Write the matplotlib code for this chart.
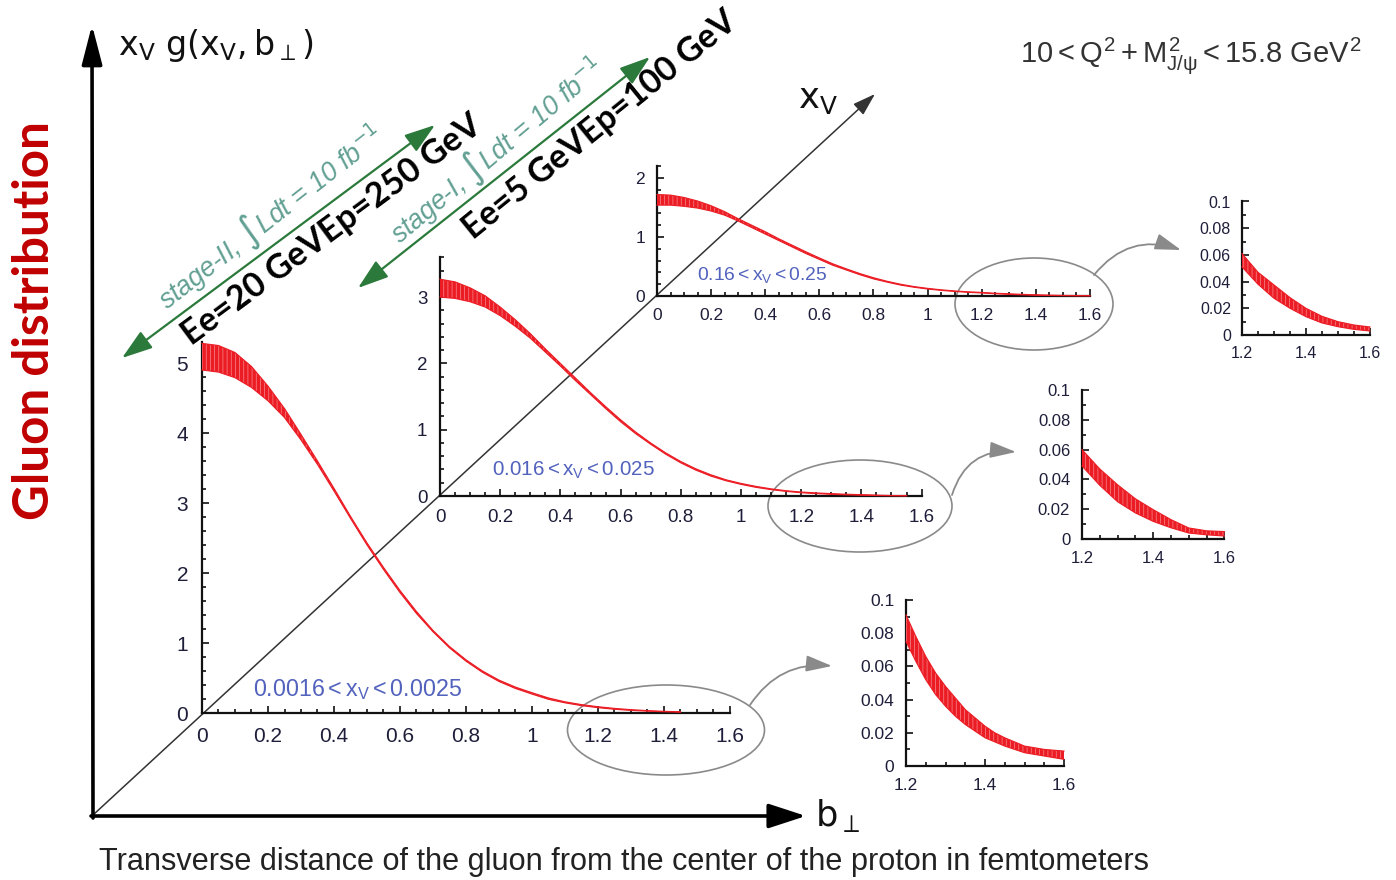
import matplotlib
matplotlib.use("Agg")
import matplotlib.pyplot as plt
from matplotlib.patches import Ellipse
from matplotlib.ticker import FixedLocator, FixedFormatter, MultipleLocator

# ---------------- data ----------------
# main panels: b_perp grid and lower/upper edge of the x_V g(x_V, b) band
P1_B = [0.00, 0.05, 0.10, 0.15, 0.20, 0.25, 0.30, 0.35, 0.40, 0.45, 0.50, 0.55, 0.60, 0.65, 0.70,
        0.75, 0.80, 0.85, 0.90, 0.95, 1.00, 1.05, 1.10, 1.15, 1.20, 1.25, 1.30, 1.35, 1.40, 1.45]
P1_LO = [4.90, 4.87, 4.79, 4.65, 4.46, 4.22, 3.90, 3.55, 3.17, 2.78, 2.40, 2.05, 1.72, 1.42, 1.16,
         0.93, 0.74, 0.58, 0.45, 0.35, 0.27, 0.195, 0.145, 0.105, 0.076, 0.053, 0.037, 0.026, 0.018, 0.012]
P1_HI = [5.28, 5.25, 5.15, 4.95, 4.67, 4.35, 3.98, 3.60, 3.21, 2.81, 2.43, 2.08, 1.75, 1.45, 1.18,
         0.95, 0.76, 0.60, 0.47, 0.37, 0.29, 0.215, 0.160, 0.120, 0.090, 0.066, 0.048, 0.034, 0.024, 0.017]

P2_B = [0.00, 0.05, 0.10, 0.15, 0.20, 0.25, 0.30, 0.35, 0.40, 0.45, 0.50, 0.55, 0.60, 0.65, 0.70, 0.75,
        0.80, 0.85, 0.90, 0.95, 1.00, 1.05, 1.10, 1.15, 1.20, 1.25, 1.30, 1.35, 1.40, 1.45, 1.50, 1.55]
P2_LO = [3.00, 2.98, 2.93, 2.85, 2.72, 2.56, 2.38, 2.17, 1.96, 1.74, 1.53, 1.32, 1.12, 0.94, 0.78, 0.63,
         0.50, 0.39, 0.30, 0.23, 0.175, 0.130, 0.096, 0.069, 0.049, 0.036, 0.025, 0.0175, 0.012, 0.0075, 0.0045, 0.003]
P2_HI = [3.27, 3.23, 3.14, 3.02, 2.85, 2.66, 2.45, 2.22, 2.00, 1.78, 1.56, 1.35, 1.15, 0.965, 0.80, 0.65,
         0.52, 0.41, 0.32, 0.245, 0.190, 0.145, 0.108, 0.080, 0.060, 0.047, 0.036, 0.027, 0.020, 0.013, 0.0074, 0.0055]

P3_B = [0.00, 0.05, 0.10, 0.15, 0.20, 0.25, 0.30, 0.35, 0.40, 0.45, 0.50, 0.55, 0.60, 0.65, 0.70, 0.75, 0.80,
        0.85, 0.90, 0.95, 1.00, 1.05, 1.10, 1.15, 1.20, 1.25, 1.30, 1.35, 1.40, 1.45, 1.50, 1.55, 1.60]
P3_LO = [1.54, 1.54, 1.52, 1.49, 1.44, 1.37, 1.27, 1.16, 1.05, 0.94, 0.83, 0.72, 0.62, 0.52, 0.44, 0.36, 0.29,
         0.235, 0.185, 0.148, 0.118, 0.095, 0.077, 0.062, 0.051, 0.038, 0.0275, 0.020, 0.0137, 0.009, 0.0062, 0.0042, 0.003]
P3_HI = [1.72, 1.71, 1.67, 1.61, 1.53, 1.43, 1.31, 1.20, 1.09, 0.97, 0.86, 0.75, 0.645, 0.545, 0.46, 0.38, 0.31,
         0.25, 0.20, 0.16, 0.13, 0.105, 0.086, 0.071, 0.061, 0.047, 0.0375, 0.028, 0.020, 0.014, 0.010, 0.0075, 0.006]

# zoomed tails, 1.2 < b < 1.6
I1_B = [1.200, 1.225, 1.250, 1.275, 1.300, 1.325, 1.350, 1.375, 1.400, 1.425, 1.450, 1.475, 1.500,
        1.525, 1.550, 1.575, 1.600]
I1_LO = [0.075, 0.063, 0.052, 0.043, 0.036, 0.030, 0.025, 0.021, 0.017, 0.0145, 0.012, 0.010, 0.008,
         0.007, 0.006, 0.005, 0.004]
I1_HI = [0.091, 0.078, 0.066, 0.056, 0.048, 0.041, 0.034, 0.029, 0.024, 0.020, 0.017, 0.0145, 0.012,
         0.011, 0.010, 0.0095, 0.009]
I_B = [1.20, 1.25, 1.30, 1.35, 1.40, 1.45, 1.50, 1.55, 1.60]
I2_LO = [0.049, 0.036, 0.025, 0.0175, 0.0118, 0.0075, 0.0040, 0.0028, 0.0020]
I2_HI = [0.060, 0.047, 0.0364, 0.027, 0.0197, 0.013, 0.0074, 0.0055, 0.0050]
I3_LO = [0.051, 0.038, 0.0275, 0.020, 0.0137, 0.009, 0.0062, 0.0042, 0.0030]
I3_HI = [0.061, 0.047, 0.0375, 0.028, 0.020, 0.014, 0.010, 0.0075, 0.0060]

# tick positions and labels
MAIN_XTICKS = [0, 0.2, 0.4, 0.6, 0.8, 1.0, 1.2, 1.4, 1.6]
MAIN_XLABELS = ["0", "0.2", "0.4", "0.6", "0.8", "1", "1.2", "1.4", "1.6"]
P1_YTICKS = [0, 1, 2, 3, 4, 5]
P2_YTICKS = [0, 1, 2, 3]
P3_YTICKS = [0, 1, 2]
ZOOM_XTICKS = [1.2, 1.4, 1.6]
ZOOM_XLABELS = ["1.2", "1.4", "1.6"]
ZOOM_YTICKS = [0, 0.02, 0.04, 0.06, 0.08, 0.1]
ZOOM_YLABELS = ["0", "0.02", "0.04", "0.06", "0.08", "0.1"]

# text
BIN_LABELS = [r"$0.0016 < x_V < 0.0025$", r"$0.016 < x_V < 0.025$", r"$0.16 < x_V < 0.25$"]
Q2_LABEL = r"$10 < Q^2 + M^2_{J/\psi} < 15.8\ GeV^2$"
STAGE2 = r"stage-II, $\int$Ldt = 10 fb$^{-1}$"
STAGE1 = r"stage-I, $\int$Ldt = 10 fb$^{-1}$"
BEAM2 = "Ee=20 GeVEp=250 GeV"
BEAM1 = "Ee=5 GeVEp=100 GeV"
YTITLE = "Gluon distribution"
XTITLE = "Transverse distance of the gluon from the center of the proton in femtometers"
ZTITLE = r"$\mathrm{x_V\ g(x_V,b_\perp)}$"
XV_AXIS = r"$\mathrm{x_V}$"
B_AXIS = r"$\mathrm{b_\perp}$"

# ---------------- style ----------------
plt.rcParams["font.family"] = ["Liberation Sans", "DejaVu Sans"]
plt.rcParams["mathtext.fontset"] = "custom"
plt.rcParams["mathtext.rm"] = "Liberation Sans"
plt.rcParams["mathtext.it"] = "Liberation Sans"
plt.rcParams["mathtext.bf"] = "Liberation Sans:bold"
plt.rcParams["mathtext.fallback"] = "stixsans"
plt.rcParams["hatch.linewidth"] = 0.5

RED = "#ec1c24"
HATCH = "#f78a8e"
TICKC = "#1e1e3a"
BLUEL = "#5262bd"
GREEN = "#2b7a3b"
GREENT = "#62a093"
GREY = "#8a8a8a"

W, H = 1396, 880
fig = plt.figure(figsize=(W / 100, H / 100), dpi=100)
base = fig.add_axes([0, 0, 1, 1])
base.set_xlim(0, W)
base.set_ylim(H, 0)
base.axis("off")
renderer = fig.canvas.get_renderer()


def fit_text(t, width_px, rotation=0):
    """Scale a text so its unrotated width is width_px, then rotate it."""
    t.set_rotation(0)
    bb = t.get_window_extent(renderer)
    t.set_fontsize(t.get_fontsize() * width_px / bb.width)
    t.set_rotation(rotation)
    return t


def make_panel(x0, y0, xpx, ypx, xlim, ylim, xticks, xlabels, yticks, ylabels,
               xminor, yminor, fs, pad):
    w = (xlim[1] - xlim[0]) * xpx
    h = (ylim[1] - ylim[0]) * ypx
    ax = fig.add_axes([x0 / W, (H - y0) / H, w / W, h / H])
    ax.set_xlim(*xlim)
    ax.set_ylim(*ylim)
    ax.patch.set_visible(False)
    for s in ("top", "right"):
        ax.spines[s].set_visible(False)
    for s in ("left", "bottom"):
        ax.spines[s].set_linewidth(1.6)
        ax.spines[s].set_color("#111111")
    ax.xaxis.set_major_locator(FixedLocator(xticks))
    ax.xaxis.set_major_formatter(FixedFormatter(xlabels))
    ax.yaxis.set_major_locator(FixedLocator(yticks))
    ax.yaxis.set_major_formatter(FixedFormatter(ylabels))
    ax.xaxis.set_minor_locator(MultipleLocator(xminor))
    ax.yaxis.set_minor_locator(MultipleLocator(yminor))
    ax.tick_params(which="both", direction="in", width=1.2, color="#111111",
                   labelsize=fs, labelcolor=TICKC, pad=pad)
    ax.tick_params(which="major", length=5)
    ax.tick_params(which="minor", length=2.6)
    return ax


def band(ax, b, lo, hi, lw=0.8):
    ax.fill_between(b, lo, hi, facecolor=RED, edgecolor=HATCH, hatch="||||",
                    linewidth=0, clip_on=False, zorder=3)
    ax.plot(b, lo, color=RED, lw=lw, clip_on=False, zorder=4)
    ax.plot(b, hi, color=RED, lw=lw, clip_on=False, zorder=4)


# ---------------- frame arrows ----------------
base.annotate("", xy=(875, 94), xytext=(93, 815),
              arrowprops=dict(arrowstyle="-|>,head_length=1.4,head_width=0.45",
                              mutation_scale=10, lw=1.1, color="#333333",
                              shrinkA=0, shrinkB=0))
base.annotate("", xy=(92, 25), xytext=(93, 818),
              arrowprops=dict(arrowstyle="-|>,head_length=2.4,head_width=0.62",
                              mutation_scale=10, lw=2.6, color="black",
                              shrinkA=0, shrinkB=0))
base.annotate("", xy=(806, 816), xytext=(91, 816),
              arrowprops=dict(arrowstyle="-|>,head_length=2.3,head_width=0.75",
                              mutation_scale=10, lw=2.6, color="black",
                              shrinkA=0, shrinkB=0))

# ---------------- panels ----------------
p1 = make_panel(202, 713, 330, 70, (0, 1.6), (0, 5.3), MAIN_XTICKS, MAIN_XLABELS,
                P1_YTICKS, [str(v) for v in P1_YTICKS], 0.05, 0.2, 15, 10)
band(p1, P1_B, P1_LO, P1_HI)

p2 = make_panel(440, 496, 301, 66.3, (0, 1.6), (0, 3.6), MAIN_XTICKS, MAIN_XLABELS,
                P2_YTICKS, [str(v) for v in P2_YTICKS], 0.05, 0.2, 13.5, 9)
band(p2, P2_B, P2_LO, P2_HI)

p3 = make_panel(657, 296, 270.6, 59, (0, 1.6), (0, 2.2), MAIN_XTICKS, MAIN_XLABELS,
                P3_YTICKS, [str(v) for v in P3_YTICKS], 0.05, 0.2, 12.5, 8.5)
band(p3, P3_B, P3_LO, P3_HI)

z1 = make_panel(906, 766, 395, 1660, (1.2, 1.6), (0, 0.1), ZOOM_XTICKS, ZOOM_XLABELS,
                ZOOM_YTICKS, ZOOM_YLABELS, 0.05, 0.01, 12.5, 8.5)
band(z1, I1_B, I1_LO, I1_HI)

z2 = make_panel(1082, 539, 356, 1490, (1.2, 1.6), (0, 0.1), ZOOM_XTICKS, ZOOM_XLABELS,
                ZOOM_YTICKS, ZOOM_YLABELS, 0.05, 0.01, 12, 8.5)
band(z2, I_B, I2_LO, I2_HI)

z3 = make_panel(1242, 335, 320, 1335, (1.2, 1.6), (0, 0.1), ZOOM_XTICKS, ZOOM_XLABELS,
                ZOOM_YTICKS, ZOOM_YLABELS, 0.05, 0.01, 11.5, 8)
band(z3, I_B, I3_LO, I3_HI)

# ---------------- zoom ellipses and pointers ----------------
for (cx, cy, ew, eh) in [(666, 730, 197, 90), (860, 506, 184, 92), (1034, 304, 158, 92)]:
    base.add_patch(Ellipse((cx, cy), ew, eh, fill=False, ec=GREY, lw=1.2))

for (start, end, rad) in [((750, 705), (832, 666), -0.3),
                          ((952, 495), (1016, 452), -0.4),
                          ((1094, 275), (1181, 250), -0.35)]:
    base.annotate("", xy=end, xytext=start,
                  arrowprops=dict(arrowstyle="-|>,head_length=1.6,head_width=0.5",
                                  mutation_scale=10, lw=1.3, color=GREY,
                                  connectionstyle=f"arc3,rad={rad}",
                                  shrinkA=0, shrinkB=0))

# ---------------- luminosity arrows ----------------
for (a, b) in [((122, 358), (435, 125)), ((358, 288), (650, 57))]:
    base.annotate("", xy=b, xytext=a,
                  arrowprops=dict(arrowstyle="<|-|>,head_length=1.35,head_width=0.45",
                                  mutation_scale=14, lw=1.6, color=GREEN,
                                  shrinkA=0, shrinkB=0))

# ---------------- text ----------------
t = base.text(118, 45, ZTITLE, fontsize=26, ha="left", va="center",
              math_fontfamily="dejavusans", color="#111111")
fit_text(t, 195)
t = base.text(798, 100, XV_AXIS, fontsize=26, ha="left", va="center",
              math_fontfamily="dejavusans", color="#111111")
fit_text(t, 40)
t = base.text(815, 815, B_AXIS, fontsize=28, ha="left", va="center",
              math_fontfamily="dejavusans", color="#111111")
fit_text(t, 45)

t = base.text(35, 321, YTITLE, fontsize=30, family="Lato", weight="bold",
              color="#c00000", ha="center", va="center", rotation_mode="anchor")
fit_text(t, 398, 90)

t = base.text(624, 862, XTITLE, fontsize=20, color="#222222", ha="center", va="center")
fit_text(t, 1048)

t = base.text(1191, 55, Q2_LABEL, fontsize=17, color="#333333", ha="center", va="center")
fit_text(t, 343)

for (s, cx, cy, w, ang) in [(STAGE2, 270, 216, 278, 38.0), (STAGE1, 496, 150, 270, 40.0)]:
    t = base.text(cx, cy, s, fontsize=16, style="italic", color=GREENT, ha="center",
                  va="center", rotation_mode="anchor", math_fontfamily="dejavusans")
    fit_text(t, w, ang)

for (s, cx, cy, w, ang) in [(BEAM2, 332, 230, 363, 36.5), (BEAM1, 600, 125, 342, 39.0)]:
    t = base.text(cx, cy, s, fontsize=22, family="Lato", weight="bold", color="black",
                  ha="center", va="center", rotation_mode="anchor")
    fit_text(t, w, ang)

for (s, x, y, w) in [(BIN_LABELS[0], 253, 690, 210), (BIN_LABELS[1], 492, 470, 163),
                     (BIN_LABELS[2], 697, 275, 131)]:
    t = base.text(x, y, s, fontsize=14, color=BLUEL, ha="left", va="center")
    fit_text(t, w)

fig.savefig("out.png", dpi=100)
